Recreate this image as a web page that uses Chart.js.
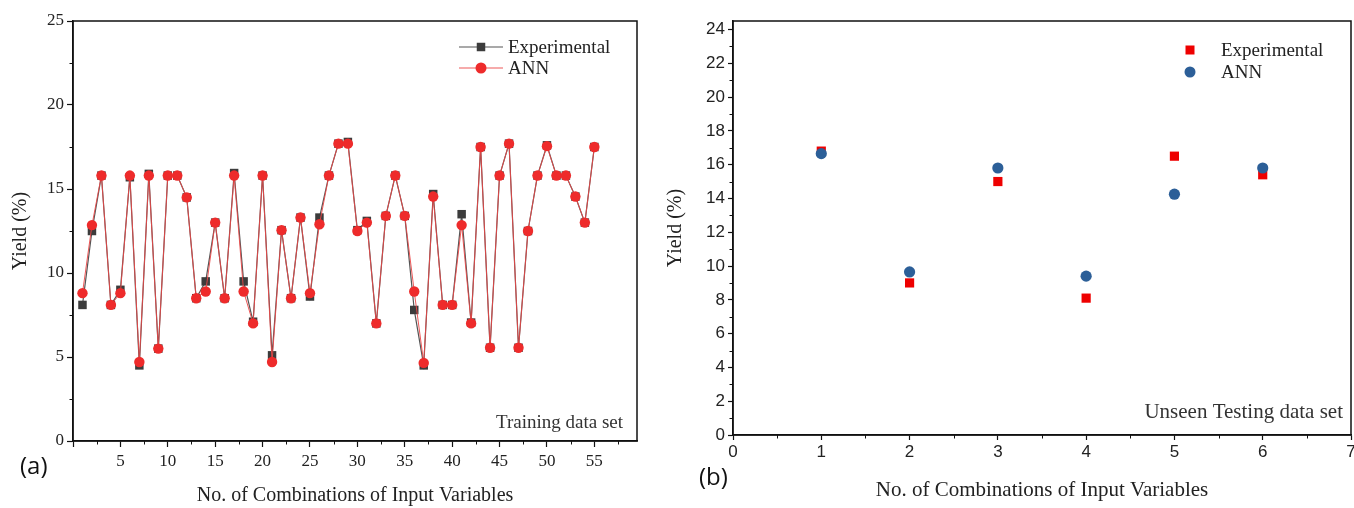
<!DOCTYPE html>
<html>
<head>
<meta charset="utf-8">
<script src="https://cdn.jsdelivr.net/npm/chart.js@4.4.0/dist/chart.umd.min.js"></script>
<style>
    html, body { margin: 0; padding: 0; background: #fff; overflow: hidden; }
    #wrap { position: relative; width: 1354px; height: 508px; overflow: hidden; }
    .panel { position: absolute; top: 0; }
    #boxA { left: 0; }
    #boxB { left: 655px; }
</style>
</head>
<body>
<div id="wrap">
    <div class="panel" id="boxA"><canvas id="trainChart" width="650" height="508"></canvas></div>
    <div class="panel" id="boxB"><canvas id="testChart" width="710" height="508"></canvas></div>
</div>
<script>
// (a) training data set
var trainRuns = [1, 2, 3, 4, 5, 6, 7, 8, 9, 10, 11, 12, 13, 14, 15, 16, 17, 18, 19, 20,
    21, 22, 23, 24, 25, 26, 27, 28, 29, 30, 31, 32, 33, 34, 35, 36, 37, 38, 39, 40,
    41, 42, 43, 44, 45, 46, 47, 48, 49, 50, 51, 52, 53, 54, 55];
var trainExp = [8.1, 12.5, 15.8, 8.1, 9.0, 15.7, 4.5, 15.9, 5.5, 15.8, 15.8, 14.5, 8.5, 9.5, 13.0,
    8.5, 15.95, 9.5, 7.1, 15.8, 5.1, 12.55, 8.5, 13.3, 8.6, 13.3, 15.8, 17.7, 17.8, 12.55,
    13.1, 7.0, 13.4, 15.8, 13.4, 7.8, 4.5, 14.7, 8.1, 8.1, 13.5, 7.05, 17.5, 5.55, 15.8,
    17.7, 5.55, 12.5, 15.8, 17.6, 15.8, 15.8, 14.55, 13.0, 17.5];
var trainAnn = [8.8, 12.85, 15.8, 8.1, 8.8, 15.8, 4.7, 15.8, 5.5, 15.8, 15.8, 14.5, 8.5, 8.9, 13.0,
    8.5, 15.8, 8.9, 7.0, 15.8, 4.7, 12.55, 8.5, 13.3, 8.8, 12.9, 15.8, 17.7, 17.7, 12.5,
    13.0, 7.0, 13.4, 15.8, 13.4, 8.9, 4.65, 14.55, 8.1, 8.1, 12.85, 7.0, 17.5, 5.55, 15.8,
    17.7, 5.55, 12.5, 15.8, 17.55, 15.8, 15.8, 14.55, 13.0, 17.5];
var trainXTicks = [0, 5, 10, 15, 20, 25, 30, 35, 40, 45, 50, 55];
var trainYTicks = [0, 5, 10, 15, 20, 25];

// (b) unseen testing data set
var testRuns = [1, 2, 3, 4, 5, 6];
var testExp = [16.8, 9.0, 15.0, 8.1, 16.5, 15.4];
var testAnn = [16.65, 9.65, 15.8, 9.4, 14.25, 15.8];
var testXTicks = [0, 1, 2, 3, 4, 5, 6, 7];
var testYTicks = [0, 2, 4, 6, 8, 10, 12, 14, 16, 18, 20, 22, 24];

var serif = "'Liberation Serif', 'Times New Roman', serif";
var sans = "'Liberation Sans', Arial, sans-serif";

function toPoints(xs, ys) {
    return xs.map(function (x, i) { return { x: x, y: ys[i] }; });
}

// box, minor ticks, legend and notes
var framePlugin = {
    id: 'frame',
    afterDraw: function (chart, args, o) {
        var ctx = chart.ctx, a = chart.chartArea;
        var xs = chart.scales.x, ys = chart.scales.y;
        ctx.save();
        ctx.strokeStyle = '#111';
        ctx.lineWidth = 1.5;
        ctx.strokeRect(a.left, a.top, a.right - a.left, a.bottom - a.top);

        ctx.lineWidth = 1;
        ctx.beginPath();
        for (var v = o.xMinor; v < xs.max; v += o.xMinor * 2) {
            var px = Math.round(xs.getPixelForValue(v)) + 0.5;
            ctx.moveTo(px, a.bottom);
            ctx.lineTo(px, a.bottom + 3.5);
        }
        for (var w = o.yMinor; w < ys.max; w += o.yMinor * 2) {
            var py = Math.round(ys.getPixelForValue(w)) + 0.5;
            ctx.moveTo(a.left, py);
            ctx.lineTo(a.left - 3.5, py);
        }
        ctx.stroke();

        // legend
        ctx.font = o.legendSize + 'px ' + serif;
        ctx.textBaseline = 'middle';
        ctx.textAlign = 'left';
        o.legend.forEach(function (it) {
            if (it.line) {
                ctx.strokeStyle = it.line;
                ctx.lineWidth = 1.2;
                ctx.beginPath();
                ctx.moveTo(it.x - 22, it.y);
                ctx.lineTo(it.x + 22, it.y);
                ctx.stroke();
            }
            ctx.fillStyle = it.color;
            ctx.beginPath();
            if (it.shape === 'rect') {
                ctx.rect(it.x - it.size / 2, it.y - it.size / 2, it.size, it.size);
            } else {
                ctx.arc(it.x, it.y, it.size / 2, 0, Math.PI * 2);
            }
            ctx.fill();
            ctx.fillStyle = '#222';
            ctx.fillText(it.text, it.tx, it.y + 1);
        });

        // note in lower right corner
        ctx.font = o.noteSize + 'px ' + serif;
        ctx.textAlign = 'right';
        ctx.fillStyle = '#333';
        ctx.fillText(o.note, a.right - o.noteGap, o.noteY);

        // panel letter
        ctx.font = '24px "Open Sans", sans-serif';
        ctx.textAlign = 'left';
        ctx.fillStyle = '#111';
        ctx.fillText(o.tag, o.tagX, o.tagY);
        ctx.restore();
    }
};

function axisTitle(text, size) {
    return { display: true, text: text, color: '#222', font: { family: serif, size: size }, padding: 0 };
}

new Chart('trainChart', {
    type: 'line',
    data: {
        datasets: [{
            label: 'Experimental',
            data: toPoints(trainRuns, trainExp),
            borderColor: '#555',
            borderWidth: 1.2,
            pointStyle: 'rect',
            pointRadius: 6,
            pointBackgroundColor: '#3c3c3c',
            pointBorderColor: '#3c3c3c',
            pointBorderWidth: 0,
            order: 2
        }, {
            label: 'ANN',
            data: toPoints(trainRuns, trainAnn),
            borderColor: 'rgba(235, 70, 70, 0.9)',
            borderWidth: 1,
            pointStyle: 'circle',
            pointRadius: 5.2,
            pointBackgroundColor: '#ee2b2b',
            pointBorderColor: '#ee2b2b',
            pointBorderWidth: 0,
            order: 1
        }]
    },
    options: {
        responsive: false,
        animation: false,
        devicePixelRatio: 1,
        layout: { padding: { left: 9, top: 21, right: 13, bottom: 0 } },
        plugins: {
            legend: { display: false },
            tooltip: { enabled: false },
            frame: {
                xMinor: 2.5, yMinor: 2.5,
                legendSize: 19,
                legend: [
                    { text: 'Experimental', x: 481, y: 47, tx: 508, shape: 'rect', size: 8.5, color: '#3c3c3c', line: '#555' },
                    { text: 'ANN', x: 481, y: 68, tx: 508, shape: 'circle', size: 11, color: '#ee2b2b', line: 'rgba(235,70,70,0.9)' }
                ],
                note: 'Training data set', noteSize: 19, noteGap: 14, noteY: 423,
                tag: '(a)', tagX: 20, tagY: 467
            }
        },
        scales: {
            x: {
                type: 'linear', min: 0, max: 59.5,
                afterBuildTicks: function (s) { s.ticks = trainXTicks.map(function (v) { return { value: v }; }); },
                afterFit: function (s) { s.height = 67; },
                grid: { drawOnChartArea: false, drawTicks: true, tickLength: 6, color: '#111', tickWidth: 1.2 },
                border: { display: true, color: '#111', width: 1.5 },
                ticks: {
                    color: '#222', font: { family: serif, size: 17 }, padding: 4, maxRotation: 0, autoSkip: false,
                    callback: function (v) { return v === 0 ? '' : v; }
                },
                title: axisTitle('No. of Combinations of Input Variables', 20)
            },
            y: {
                type: 'linear', min: 0, max: 25,
                afterBuildTicks: function (s) { s.ticks = trainYTicks.map(function (v) { return { value: v }; }); },
                afterFit: function (s) { s.width = 64; },
                grid: { drawOnChartArea: false, drawTicks: true, tickLength: 6, color: '#111', tickWidth: 1.2 },
                border: { display: true, color: '#111', width: 1.5 },
                ticks: { color: '#222', font: { family: serif, size: 17 }, padding: 3 },
                title: axisTitle('Yield (%)', 20)
            }
        }
    },
    plugins: [framePlugin]
});

new Chart('testChart', {
    type: 'scatter',
    data: {
        datasets: [{
            label: 'Experimental',
            data: toPoints(testRuns, testExp),
            pointStyle: 'rect',
            pointRadius: 6.5,
            pointBackgroundColor: '#ee0000',
            pointBorderWidth: 0,
            order: 2
        }, {
            label: 'ANN',
            data: toPoints(testRuns, testAnn),
            pointStyle: 'circle',
            pointRadius: 5.6,
            pointBackgroundColor: '#2c5f98',
            pointBorderWidth: 0,
            order: 1
        }]
    },
    options: {
        responsive: false,
        animation: false,
        devicePixelRatio: 1,
        layout: { padding: { left: 9, top: 21, right: 14, bottom: 5 } },
        plugins: {
            legend: { display: false },
            tooltip: { enabled: false },
            frame: {
                xMinor: 0.5, yMinor: 1,
                legendSize: 19,
                legend: [
                    { text: 'Experimental', x: 535, y: 50, tx: 566, shape: 'rect', size: 9, color: '#ee0000' },
                    { text: 'ANN', x: 535, y: 72, tx: 566, shape: 'circle', size: 11, color: '#2c5f98' }
                ],
                note: 'Unseen Testing data set', noteSize: 21, noteGap: 8, noteY: 412,
                tag: '(b)', tagX: 44, tagY: 478
            }
        },
        scales: {
            x: {
                type: 'linear', min: 0, max: 7,
                afterBuildTicks: function (s) { s.ticks = testXTicks.map(function (v) { return { value: v }; }); },
                afterFit: function (s) { s.height = 68; },
                grid: { drawOnChartArea: false, drawTicks: true, tickLength: 5, color: '#111', tickWidth: 1.2 },
                border: { display: true, color: '#111', width: 1.5 },
                ticks: { color: '#222', font: { family: sans, size: 17 }, padding: 2, maxRotation: 0, autoSkip: false },
                title: axisTitle('No. of Combinations of Input Variables', 21)
            },
            y: {
                type: 'linear', min: 0, max: 24.5,
                afterBuildTicks: function (s) { s.ticks = testYTicks.map(function (v) { return { value: v }; }); },
                afterFit: function (s) { s.width = 69; },
                grid: { drawOnChartArea: false, drawTicks: true, tickLength: 5, color: '#111', tickWidth: 1.2 },
                border: { display: true, color: '#111', width: 1.5 },
                ticks: { color: '#222', font: { family: sans, size: 17 }, padding: 3 },
                title: axisTitle('Yield (%)', 20)
            }
        }
    },
    plugins: [framePlugin]
});
</script>
</body>
</html>
